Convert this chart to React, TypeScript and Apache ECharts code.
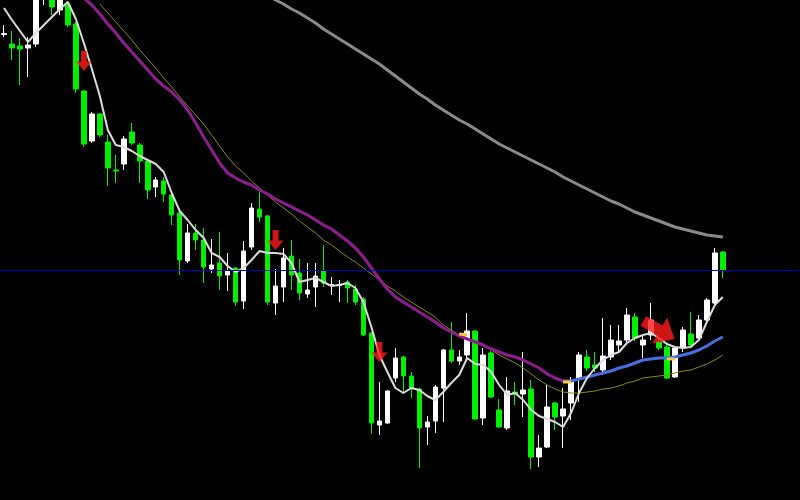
import React, { useEffect, useRef } from "react";
import * as echarts from "echarts";

// ---- data (price index units) ----
const BARS = 91;
const SLOTS = 100;
const categories = Array.from({ length: SLOTS }, (_, i) => `Bar ${i + 1}`);

const opens = [465.5,456,454,452,456,515,510,490,495,476, 409,359,386,358,330,336,368,355,339,313, 319,305,287,239,267,260,231,237,225,232, 199,253,291,284,197,213,244,227,206,213, 229,214.5,214.5,218,211,201,167,75,77,122, 143,124,111,73,79,112,150,139,145,169, 82,147,90,72,108,106,111,43,53,97, 84,97,121,143,135,130,143,155,160,183, 155,165,158,153,123,152,166,162,180,197, 248];
const closes = [466.5,452,451,455,505,530,493,505,475,411, 356,386,365,332,329,361,357,339,310,320, 306,285,240,267,260,233,235,224,229,198, 249,292,283,198,214,242,225,207,210,224, 217,215.5,215.5,212,198,165,77,79,109,142, 124,112,72,78,113,150,139,143,169,81, 145,103,73,109,106,110,43,52,93,83, 91,118,145,132,132,144,160,159,185,162, 160,180,152,122,152,170,155,180,200,247, 230];
const lows = [463,440,415,423,453,495,485,485,473,407, 353,357,363,314,317,330,355,317,301,303, 298,275,225,237,250,217,227,210,209,194, 191,250,278,195,185,198,210,200,202,193, 213,205,198,197,195,164,66,65,76,118, 107,102,32,55,67,78,137,135,142,80, 75,102,72,70,95,83,31,33,52,70, 52,80,98,129,128,125,140,147,155,159, 142,160,150,121,122,148,153,160,178,196, 222];
const highs = [475,469,462,463,510,540,520,510,498,478, 410,388,387,365,345,364,377,357,340,323, 323,309,288,276,276,272,261,268,247,233, 259,297,311,285,231,252,260,241,237,237, 255,223,220,220,215,203,168,118,110,152, 144,128,112,84,115,151,178,150,187,170, 152,149,101,123,118,148,120,65,115,98, 112,123,148,150,148,182,175,175,192,187, 165,197,162,155,154,173,188,185,202,252, 249];

// fast MA (white), all bars
const maFast = [492,480,469,458,467,475,483,491,498,481, 457,431,404,370,355,353,349,344,340,336, 328,307,289,280,270,262,247,243,234,228, 232,240,249,247,247,246,237,218,220,222, 218,214,215,217,212,198,173,145,128,112, 107,112,110,104,100,108,117,125,142,136, 135,128,115,105,107,100,90,84,81,78, 73,87,107,122,132,140,145,148,157,162, 165,167,162,156,153,152,153,160,178,195, 203];
// slow MA (gray), from bar 33
const maSlowStart = 33;
const maSlow = [505,500,496,491,487,482,477,471,466,461, 456,451,446,441,436,430,424,418,412,406, 401,395,390,385,380,376,371,366,361,356, 352,348,344,340,336,332,328,323,319,315, 311,307,303,299,296,292,288,285,282,279, 276,273,271,269,267,265,264,263];
// mid MA falling (purple), bars 10..70
const maMidDownStart = 10;
const maMidDown = [502,495,486,476,467,457,448,439,430,421, 414,408,400,390,377,363,350,337,327,322, 318,315,310,306,301,297,293,289,285,280, 275,271,265,259,252,243,232,221,211,203, 198,193,188,183,178,172,168,164,161,158, 155,151,148,145,143,140,136,132,126,122, 119];
// mid MA rising (blue), bars 70..90
const maMidUpStart = 70;
const maMidUp = [119,119,121,123,125,127,129,132,134,137,140,141,142,142,143,145,147,150,154,159,163];
// thin MA (olive), bars 12..90
const maThinStart = 12;
const maThin = [496,487,478,469,460,450,441,432,422,413, 403,394,385,376,365,354,343,334,327,319, 312,305,298,292,286,279,273,267,260,255, 249,243,238,232,226,220,214,209,203,198, 193,188,183,175,170,165,162,158,154,150, 145,141,137,132,126,120,115,111,108,107, 107,108,109,111,112,114,117,119,122,123, 124,125,127,129,130,133,136,140,145];
// colour-change marks (yellow)
const turnA = { start: 57, values: [166, 165] };
const turnB = { start: 70, values: [118, 118] };
const turnC = { start: 83, values: [141, 141] };

const hLevel = 230;

const arrowBars = [10, 34, 47];
const arrowValues = [439, 260, 148];
const bigArrowBar = 82;
const bigArrowValue = 170;

const pad = (start: number, vals: number[]) => {
  const out: (number | null)[] = Array(BARS).fill(null);
  vals.forEach((v, k) => (out[start + k] = v));
  return out;
};

const candleData = opens.map((o, i) => [o, closes[i], lows[i], highs[i]]);

const ARROW = "path://M5,0 L11,0 L11,10 L16,10 L8,19 L0,10 L5,10 Z";

const lineS = (data: (number | null)[], color: string, width: number, z: number) => ({
  type: "line",
  data,
  symbol: "none",
  smooth: false,
  z,
  silent: true,
  lineStyle: { color, width },
});

export default function App() {
  const ref = useRef<HTMLDivElement>(null);
  useEffect(() => {
    document.body.style.margin = "0";
    document.body.style.background = "#000";
    const chart = echarts.init(ref.current!, null, { renderer: "svg" });
    chart.setOption({
      animation: false,
      backgroundColor: "#000000",
      grid: { left: -1.3, right: 1.3, top: 0, bottom: 0 },
      xAxis: { type: "category", data: categories, boundaryGap: true, show: false },
      yAxis: { type: "value", min: 0, max: 500, show: false },
      series: [
        {
          type: "candlestick",
          data: candleData,
          barWidth: 5,
          z: 2,
          itemStyle: {
            color: "#ffffff",
            color0: "#00f000",
            borderColor: "#ffffff",
            borderColor0: "#00f000",
            borderWidth: 1,
          },
          markLine: {
            silent: true,
            symbol: "none",
            label: { show: false },
            lineStyle: { color: "#0000b4", width: 1, type: "solid" },
            data: [{ yAxis: hLevel }],
          },
        },
        lineS(pad(maThinStart, maThin), "#8a8a22", 1, 3),
        lineS(pad(maSlowStart, maSlow), "#8a8a8a", 3, 3),
        lineS(pad(maMidDownStart, maMidDown), "#8e1e8e", 3, 3),
        lineS(pad(maMidUpStart, maMidUp), "#4a6ee0", 3, 3),
        lineS(maFast, "#dcdcdc", 2, 4),
        lineS(pad(turnA.start, turnA.values), "#ffc83a", 3, 5),
        lineS(pad(turnB.start, turnB.values), "#ffc83a", 3, 5),
        lineS(pad(turnC.start, turnC.values), "#ffc83a", 3, 5),
        {
          type: "scatter",
          z: 6,
          silent: true,
          symbol: ARROW,
          symbolSize: [16, 20],
          itemStyle: { color: "#ff1a1a" },
          data: arrowBars.map((b, k) => [b, arrowValues[k]]),
        },
        {
          type: "scatter",
          z: 6,
          silent: true,
          symbol: ARROW,
          symbolSize: [30, 36],
          symbolRotate: 60,
          itemStyle: { color: "#ff1a1a" },
          data: [[bigArrowBar, bigArrowValue]],
        },
      ],
    });
    return () => chart.dispose();
  }, []);
  return (
    <div
      ref={ref}
      style={{ position: "fixed", left: 0, top: 0, width: 800, height: 500, background: "#000" }}
    />
  );
}
